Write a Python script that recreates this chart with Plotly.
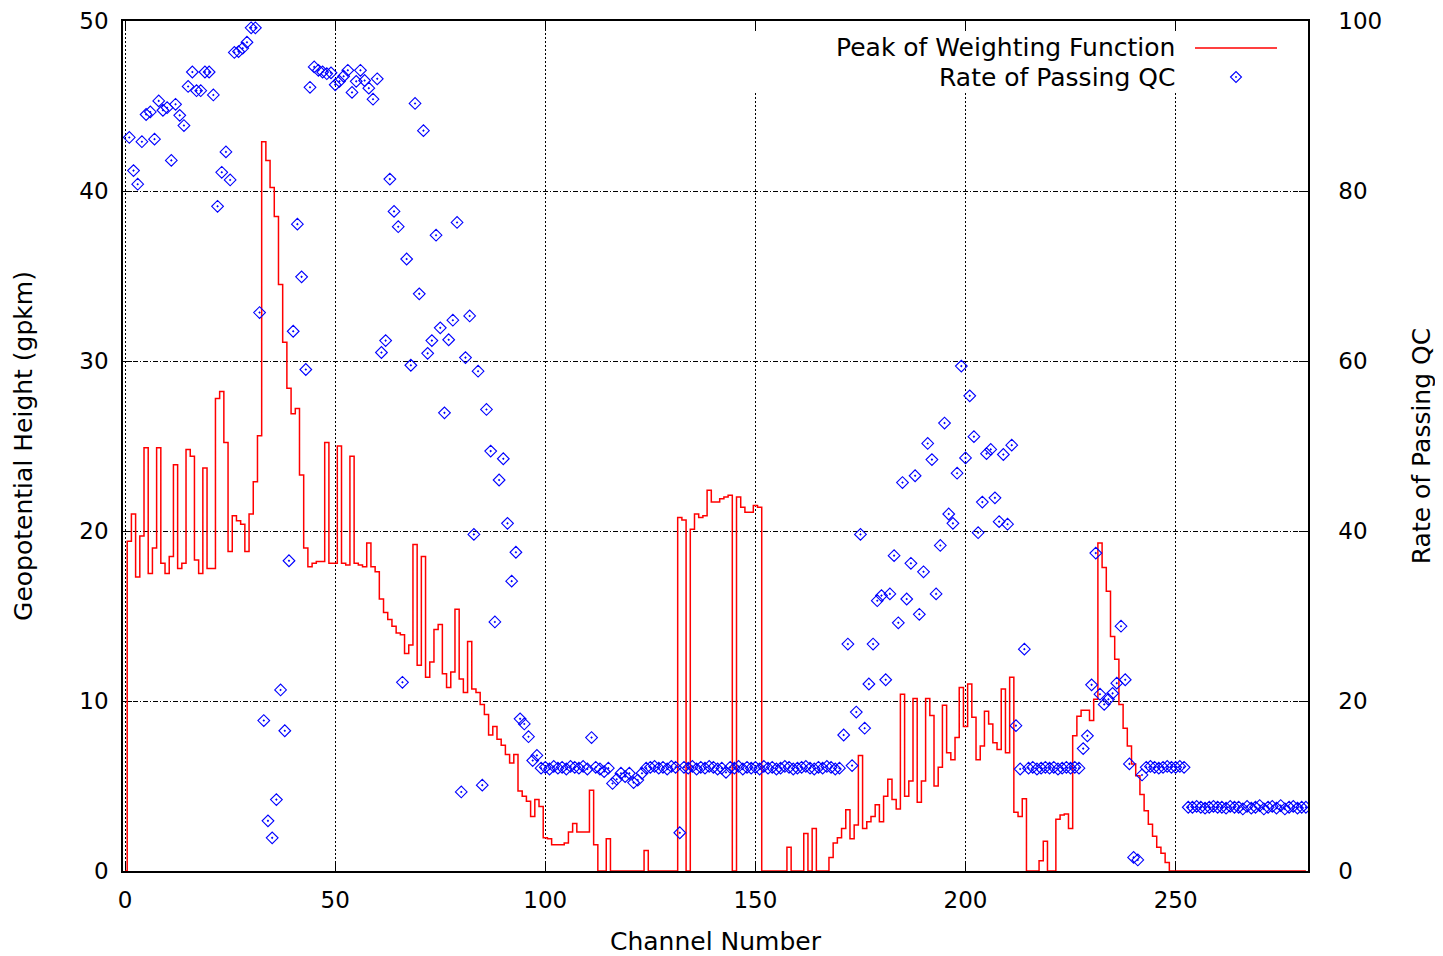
import plotly.graph_objects as go

# ---------------- data ----------------
channels_wf = list(range(0, 282))
peak_wf = [
    0, 19.4, 21.0, 17.3, 19.7, 24.9, 17.5, 19.0, 24.9, 18.1,
    17.5, 18.5, 23.9, 17.8, 18.1, 24.8, 24.4, 18.3, 17.5, 23.7,
    17.8, 17.8, 27.8, 28.2, 25.2, 18.8, 20.9, 20.6, 20.4, 18.8,
    21.0, 22.9, 25.6, 42.9, 41.8, 40.2, 38.5, 34.5, 31.1, 28.4,
    26.9, 27.2, 23.3, 19.0, 17.9, 18.1, 18.2, 18.2, 25.2, 18.1,
    18.1, 25.0, 18.1, 18.0, 24.4, 18.1, 18.0, 17.9, 19.3, 17.9,
    17.6, 16.0, 15.2, 14.8, 14.4, 14.0, 13.9, 12.8, 13.3, 19.2,
    12.1, 18.5, 11.4, 12.3, 14.2, 14.5, 11.6, 10.8, 11.7, 15.4,
    11.3, 10.5, 13.5, 10.7, 10.5, 9.8, 9.2, 8.0, 8.5, 7.75,
    7.4, 6.85, 6.36, 6.85, 4.7, 4.4, 4.1, 3.2, 4.2, 3.8,
    1.95, 1.9, 1.55, 1.55, 1.55, 1.65, 2.3, 2.8, 2.3, 2.3,
    2.3, 4.75, 1.55, 0, 0, 1.9, 0, 0, 0, 0,
    0, 0, 0, 0, 1.2, 0, 0, 0, 0, 0,
    0, 0, 20.8, 20.65, 0, 20.1, 21.0, 20.8, 20.9, 22.4,
    21.7, 21.7, 21.9, 22.0, 22.1, 0, 22.0, 21.4, 21.1, 21.1,
    21.5, 21.4, 0, 0, 0, 0, 0, 0, 1.4, 0,
    0, 0, 2.2, 0, 2.5, 0, 0, 0, 0.8, 1.65,
    1.95, 2.5, 3.6, 1.9, 2.7, 6.8, 2.5, 2.9, 3.2, 3.9,
    2.9, 4.4, 5.4, 4.2, 3.65, 10.4, 4.4, 5.3, 10.15, 4.05,
    5.3, 10.15, 9.15, 5.0, 6.1, 9.75, 6.95, 6.55, 7.85, 10.8,
    8.5, 11.0, 9.05, 6.55, 7.35, 9.4, 8.65, 7.55, 7.15, 10.7,
    6.95, 11.4, 3.45, 3.2, 4.25, 0, 0, 0, 0.6, 1.75,
    0, 0, 3.05, 3.3, 3.35, 2.5, 7.95, 9.1, 9.45, 9.45,
    8.85, 10.1, 19.3, 17.85, 16.45, 13.8, 12.45, 9.8, 8.4, 7.35,
    6.3, 5.6, 4.5, 3.55, 2.75, 2.05, 1.4, 1.05, 0.5, 0,
    0, 0, 0, 0, 0, 0, 0, 0, 0, 0,
    0, 0, 0, 0, 0, 0, 0, 0, 0, 0,
    0, 0, 0, 0, 0, 0, 0, 0, 0, 0,
    0, 0,
]

channels_qc = list(range(1, 282))
rate_qc = [
    86.3, 82.4, 80.8, 85.8, 89.0, 89.3, 86.1, 90.6, 89.5, 89.8,
    83.6, 90.2, 88.9, 87.7, 92.3, 94.0, 91.8, 91.8, 94.0, 94.0,
    91.3, 78.2, 82.2, 84.6, 81.3, 96.3, 96.4, 96.8, 97.5, 99.2,
    99.2, 65.7, 17.7, 5.9, 3.9, 8.4, 21.3, 16.5, 36.5, 63.5,
    76.1, 69.9, 59.0, 92.2, 94.6, 94.2, 94.0, 93.8, 93.9, 92.5,
    92.9, 93.5, 94.2, 91.6, 92.9, 94.2, 93.0, 92.1, 90.8, 93.2,
    61.0, 62.4, 81.4, 77.6, 75.8, 22.2, 72.0, 59.5, 90.3, 67.9,
    87.1, 60.9, 62.4, 74.8, 63.9, 53.9, 62.5, 64.8, 76.3, 9.3,
    60.4, 65.3, 39.6, 58.8, 10.1, 54.3, 49.4, 29.3, 46.0, 48.5,
    40.9, 34.1, 37.5, 17.9, 17.3, 15.8, 13.0, 13.6, 12.1, 12.2,
    12.0, 12.3, 12.1, 12.2, 12.0, 12.3, 12.2, 12.1, 12.3, 12.0,
    15.7, 12.2, 12.0, 11.7, 12.1, 10.3, 10.8, 11.5, 11.1, 11.5,
    10.4, 10.7, 11.5, 12.1, 12.2, 12.3, 12.1, 12.2, 12.0, 12.3,
    12.2, 4.5, 12.2, 12.1, 12.3, 12.0, 12.2, 12.1, 12.3, 12.2,
    12.0, 12.1, 11.6, 12.2, 12.1, 12.3, 12.0, 12.2, 12.1, 12.2,
    12.0, 12.3, 12.1, 12.2, 12.0, 12.1, 12.3, 12.2, 12.0, 12.1,
    12.2, 12.3, 12.1, 12.0, 12.2, 12.1, 12.3, 12.2, 12.0, 12.1,
    16.0, 26.7, 12.4, 18.7, 39.6, 16.8, 22.0, 26.7, 31.8, 32.4,
    22.5, 32.6, 37.1, 29.2, 45.7, 32.0, 36.2, 46.5, 30.2, 35.2,
    50.3, 48.4, 32.6, 38.3, 52.7, 42.0, 40.9, 46.8, 59.4, 48.6,
    55.9, 51.1, 39.8, 43.4, 49.1, 49.6, 43.9, 41.1, 49.0, 40.8,
    50.1, 17.1, 12.0, 26.1, 12.1, 12.2, 12.0, 12.1, 12.2, 12.1,
    12.2, 12.0, 12.1, 12.2, 12.1, 12.2, 12.1, 14.4, 15.9, 21.9,
    37.4, 20.8, 19.6, 20.2, 20.9, 22.1, 28.8, 22.5, 12.6, 1.6,
    1.3, 11.3, 12.2, 12.3, 12.2, 12.1, 12.2, 12.3, 12.2, 12.2,
    12.3, 12.2, 7.5, 7.5, 7.6, 7.5, 7.4, 7.5, 7.6, 7.5,
    7.5, 7.4, 7.6, 7.5, 7.5, 7.3, 7.6, 7.4, 7.5, 7.7,
    7.3, 7.5, 7.6, 7.4, 7.7, 7.3, 7.5, 7.6, 7.4, 7.5,
    7.5,
]

x_ticks = [0, 50, 100, 150, 200, 250]
y_ticks = [0, 10, 20, 30, 40, 50]
y2_ticks = [0, 20, 40, 60, 80, 100]

name_wf = "Peak of Weighting Function"
name_qc = "Rate of Passing QC"

# ---------------- layout geometry ----------------
PAGE = 8                      # default body margin of the html page
W, H = 1443 - PAGE, 956 - PAGE
ML, MR, MT, MB = 123 - PAGE, 135, 21 - PAGE, 85
PW, PH = W - ML - MR, H - MT - MB
FONT = "DejaVu Sans"
RED = "#ff0000"
BLUE = "#0000ff"


def px(xp):
    """screen x pixel -> paper x"""
    return (xp - PAGE - ML) / PW


def py(yp):
    """screen y pixel -> paper y"""
    return (MT + PH - (yp - PAGE)) / PH


fig = go.Figure()
fig.add_trace(go.Scatter(
    x=channels_wf, y=peak_wf, mode="lines", name=name_wf,
    line=dict(color=RED, width=1.5, shape="hvh"), showlegend=False,
))
fig.add_trace(go.Scatter(
    x=channels_qc, y=rate_qc, mode="markers", name=name_qc, yaxis="y2",
    marker=dict(symbol="diamond-open-dot", size=9, color=BLUE,
                line=dict(color=BLUE, width=1.1)),
    showlegend=False,
))

axis_common = dict(
    ticks="inside", ticklen=9, tickwidth=1, tickcolor="black",
    showline=True, linecolor="black", linewidth=1.5,
    zeroline=False, layer="below traces",
    tickfont=dict(family=FONT, size=23, color="black"),
)

fig.update_layout(
    width=W, height=H,
    margin=dict(l=ML, r=MR, t=MT, b=MB, autoexpand=False),
    paper_bgcolor="white", plot_bgcolor="white",
    font=dict(family=FONT, size=23, color="black"),
    showlegend=False,
    xaxis=dict(
        range=[-0.5, 281.5], tickmode="array", tickvals=x_ticks,
        mirror="ticks", showgrid=True, gridcolor="black", gridwidth=1,
        griddash="2px,2px", ticklabelstandoff=8,
        title=dict(text="Channel Number", font=dict(family=FONT, size=25),
                   standoff=24),
        **axis_common,
    ),
    yaxis=dict(
        range=[0, 50], tickmode="array", tickvals=y_ticks,
        mirror=True, showgrid=True, gridcolor="black", gridwidth=1,
        griddash="5px,2px,1px,2px", ticklabelstandoff=8,
        title=dict(text="Geopotential Height (gpkm)",
                   font=dict(family=FONT, size=25), standoff=40),
        **axis_common,
    ),
    yaxis2=dict(
        range=[0, 100], tickmode="array", tickvals=y2_ticks,
        overlaying="y", side="right", showgrid=False,
        ticklabelstandoff=24,
        title=dict(text="Rate of Passing QC",
                   font=dict(family=FONT, size=25), standoff=31),
        **axis_common,
    ),
)

# ---------------- gnuplot-style key (text left, sample right) ----------------
shapes = [
    dict(type="rect", xref="paper", yref="paper", layer="above",
         x0=px(752), x1=px(1300), y0=py(93), y1=py(31),
         fillcolor="white", line=dict(width=0)),
    dict(type="line", xref="paper", yref="paper", layer="above",
         x0=px(1195), x1=px(1277), y0=py(48), y1=py(48),
         line=dict(color=RED, width=1.5)),
]
cx, cy, hw = 1236, 77, 5.5
diamond = "M {} {} L {} {} L {} {} L {} {} Z".format(
    px(cx - hw), py(cy), px(cx), py(cy - hw), px(cx + hw), py(cy), px(cx), py(cy + hw))
shapes.append(dict(type="path", xref="paper", yref="paper", layer="above",
                   path=diamond, line=dict(color=BLUE, width=1.1)))
shapes.append(dict(type="circle", xref="paper", yref="paper", layer="above",
                   x0=px(cx - 0.9), x1=px(cx + 0.9), y0=py(cy + 0.9), y1=py(cy - 0.9),
                   fillcolor=BLUE, line=dict(width=0)))
fig.update_layout(shapes=shapes)

fig.add_annotation(xref="paper", yref="paper", x=px(1177), y=py(48),
                   xanchor="right", yanchor="middle", showarrow=False,
                   text=name_wf, font=dict(family=FONT, size=25, color="black"))
fig.add_annotation(xref="paper", yref="paper", x=px(1177), y=py(77),
                   xanchor="right", yanchor="middle", showarrow=False,
                   text=name_qc, font=dict(family=FONT, size=25, color="black"))

fig.write_html("out.html")
